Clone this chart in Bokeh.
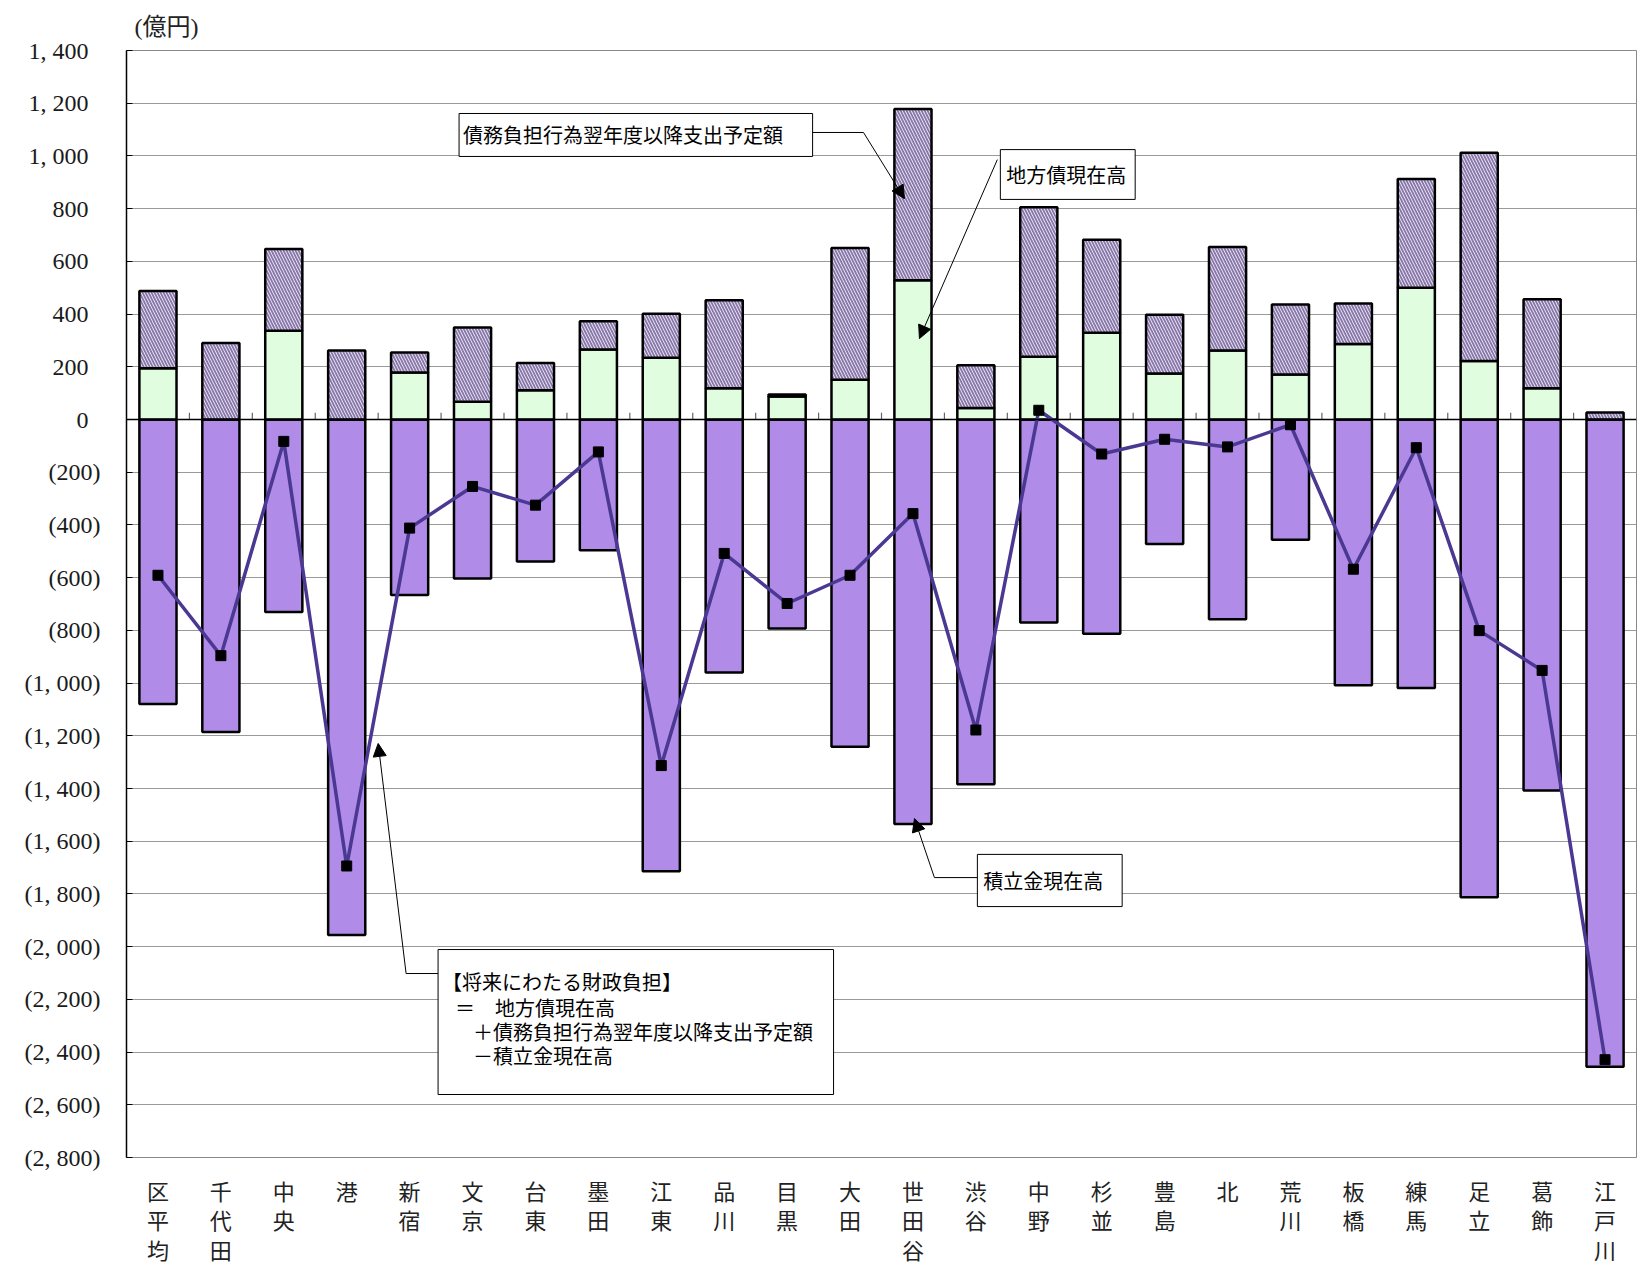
from bokeh.plotting import figure
from bokeh.models import FixedTicker, Span, Arrow, NormalHead, Range1d
from bokeh.core.properties import value
from bokeh.embed import file_html
from bokeh.resources import INLINE

# ---------------- data (億円) ----------------
wards = ["区平均", "千代田", "中央", "港", "新宿", "文京", "台東", "墨田", "江東", "品川",
         "目黒", "大田", "世田谷", "渋谷", "中野", "杉並", "豊島", "北", "荒川", "板橋",
         "練馬", "足立", "葛飾", "江戸川"]
# 地方債現在高
local_bonds = [194, 0, 337, 0, 178, 67, 111, 266, 234, 119,
               87, 151, 528, 44, 238, 329, 175, 262, 171, 286,
               500, 222, 119, 0]
# 債務負担行為翌年度以降支出予定額
debt_burden = [294, 290, 310, 262, 76, 282, 103, 107, 167, 333,
               8, 500, 650, 162, 567, 353, 222, 392, 265, 154,
               412, 790, 337, 27]
# 積立金現在高
reserves = [1079, 1186, 730, 1956, 666, 603, 539, 496, 1714, 960,
            793, 1242, 1535, 1384, 770, 813, 472, 758, 456, 1008,
            1019, 1813, 1408, 2456]
# 将来にわたる財政負担 = 地方債 + 債務負担 - 積立金
future_burden = [b + d - r for b, d, r in zip(local_bonds, debt_burden, reserves)]

y_ticks = [1400, 1200, 1000, 800, 600, 400, 200, 0, -200, -400, -600, -800, -1000,
           -1200, -1400, -1600, -1800, -2000, -2200, -2400, -2600, -2800]
y_tick_labels = ["1, 400", "1, 200", "1, 000", "800", "600", "400", "200", "0",
                 "(200)", "(400)", "(600)", "(800)", "(1, 000)", "(1, 200)", "(1, 400)",
                 "(1, 600)", "(1, 800)", "(2, 000)", "(2, 200)", "(2, 400)", "(2, 600)",
                 "(2, 800)"]

xs = list(range(len(wards)))
bond_top = local_bonds
debt_top = [b + d for b, d in zip(local_bonds, debt_burden)]
res_bottom = [-r for r in reserves]

p = figure(frame_width=1510, frame_height=1107,
           min_border_left=126, min_border_right=2, min_border_top=50, min_border_bottom=110,
           x_range=Range1d(-0.5, len(wards) - 0.5), y_range=Range1d(-2800, 1400),
           output_backend="svg", toolbar_location=None, background_fill_color="white")

p.title.text = "(億円)"
p.title.text_font = "Liberation Serif, Noto Sans CJK JP"
p.title.text_font_size = "24px"
p.title.text_font_style = "normal"
p.title.text_color = "#222222"
p.title.text_line_height = 0.8
p.title.align = "left"
p.title.offset = 8
p.title.standoff = 22

p.outline_line_color = "#8a8a8a"
p.outline_line_width = 1
p.xgrid.grid_line_color = None
p.ygrid.grid_line_color = "#9a9a9a"
p.ygrid.grid_line_width = 1

# y axis
p.yaxis.ticker = FixedTicker(ticks=y_ticks)
p.yaxis.major_label_overrides = {
    t: (lab if lab.startswith("(") else lab + "\u2002") for t, lab in zip(y_ticks, y_tick_labels)}
p.yaxis.major_label_text_font = "Liberation Serif"
p.yaxis.major_label_text_font_size = "24px"
p.yaxis.major_label_text_color = "#1a1a1a"
p.yaxis.major_label_standoff = 26
p.yaxis.major_tick_in = 6
p.yaxis.major_tick_out = 0
p.yaxis.minor_tick_line_color = None
p.yaxis.axis_line_color = "black"
p.yaxis.axis_line_width = 1.5
p.yaxis.major_tick_line_color = "black"

# x axis
p.xaxis.ticker = FixedTicker(ticks=xs)
p.xaxis.major_label_overrides = {i: "\n".join(w) for i, w in zip(xs, wards)}
p.xaxis.major_label_text_font = "Noto Sans CJK JP"
p.xaxis.major_label_text_font_size = "22px"
p.xaxis.major_label_text_color = "#222222"
p.xaxis.major_label_text_line_height = 0.93
p.xaxis.major_label_standoff = 10
p.xaxis.major_tick_line_color = None
p.xaxis.minor_tick_line_color = None
p.xaxis.axis_line_color = "#8a8a8a"

bw = 0.59
# 積立金現在高 (negative)
p.vbar(x=xs, top=[0] * len(xs), bottom=res_bottom, width=bw,
       fill_color="#b08ce8", line_color="black", line_width=2.5)
# 地方債現在高
p.vbar(x=xs, top=bond_top, bottom=[0] * len(xs), width=bw,
       fill_color="#e0fde0", line_color="black", line_width=2.5)
# 債務負担行為翌年度以降支出予定額 (hatched)
p.vbar(x=xs, top=debt_top, bottom=bond_top, width=bw,
       fill_color="#eee8f7", hatch_pattern="left_diagonal_line", hatch_color="#8777a8",
       hatch_scale=6, hatch_weight=1.8, line_color="black", line_width=2.5)

# zero line + small category ticks
p.add_layout(Span(location=0, dimension="width", line_color="black", line_width=1.5))
p.segment(x0=[i + 0.5 for i in xs[:-1]], y0=[0] * (len(xs) - 1),
          x1=[i + 0.5 for i in xs[:-1]], y1=[26] * (len(xs) - 1),
          line_color="#666666", line_width=1.2)

# 将来にわたる財政負担 line
p.line(xs, future_burden, line_color="#4b3892", line_width=3.5)
p.scatter(xs, future_burden, marker="square", size=10, fill_color="black", line_color="black")

# ---------------- annotation boxes ----------------
box_l = [4.786, 13.389, 13.024, 4.452]
box_r = [10.405, 15.532, 15.325, 10.738]
box_t = [1161, 1024, -1650, -2011]
box_b = [998, 835, -1848, -2561]
p.quad(left=box_l, right=box_r, top=box_t, bottom=box_b,
       fill_color="white", line_color="black", line_width=1)

ann_x = [4.849, 13.484, 13.119, 4.516, 4.722, 5.008, 5.008]
ann_y = [1081, 930, -1749, -2132, -2231, -2322, -2413]
ann_text = ["債務負担行為翌年度以降支出予定額", "地方債現在高", "積立金現在高",
            "【将来にわたる財政負担】", "＝　地方債現在高",
            "＋債務負担行為翌年度以降支出予定額", "－積立金現在高"]
p.text(x=ann_x, y=ann_y, text=ann_text, text_font=value("Noto Sans CJK JP"),
       text_font_size="20px", text_baseline="middle", text_align="left", text_color="black")

# leader lines
p.line([10.405, 11.214], [1089, 1089], line_color="black", line_width=1)
p.line([13.024, 12.341], [-1738, -1738], line_color="black", line_width=1)
p.line([4.452, 3.944], [-2102, -2102], line_color="black", line_width=1)

head = dict(size=13, fill_color="black", line_color="black")
p.add_layout(Arrow(end=NormalHead(**head), x_start=11.214, y_start=1089, x_end=11.865, y_end=838,
                   line_color="black", line_width=1))
p.add_layout(Arrow(end=NormalHead(**head), x_start=13.341, y_start=986, x_end=12.103, y_end=307,
                   line_color="black", line_width=1))
p.add_layout(Arrow(end=NormalHead(**head), x_start=12.341, y_start=-1738, x_end=12.024, y_end=-1514,
                   line_color="black", line_width=1))
p.add_layout(Arrow(end=NormalHead(**head), x_start=3.944, y_start=-2102, x_end=3.5, y_end=-1229,
                   line_color="black", line_width=1))

open("out.html", "w").write(file_html(p, INLINE))
